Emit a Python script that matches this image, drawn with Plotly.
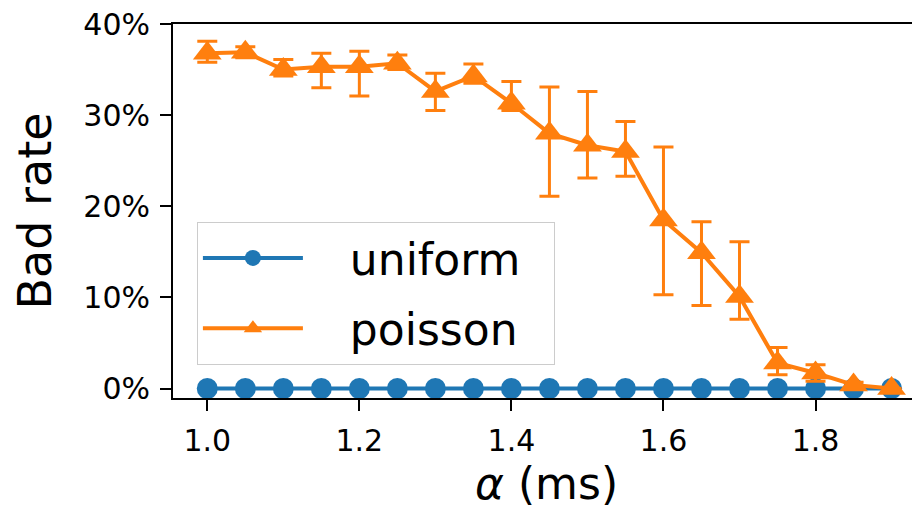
import plotly.graph_objects as go

alpha = [1.0, 1.05, 1.1, 1.15, 1.2, 1.25, 1.3, 1.35, 1.4, 1.45,
         1.5, 1.55, 1.6, 1.65, 1.7, 1.75, 1.8, 1.85, 1.9]
uniform = [0, 0, 0, 0, 0, 0, 0, 0, 0, 0, 0, 0, 0, 0, 0, 0, 0, 0, 0]
uniform_err = [0, 0, 0, 0, 0, 0, 0, 0, 0, 0, 0, 0, 0, 0, 0, 0, 0, 0, 0]
poisson = [36.8, 36.9, 35.0, 35.3, 35.3, 35.7, 32.6, 34.3, 31.3, 28.0,
           26.7, 26.0, 18.5, 14.9, 10.1, 2.8, 1.7, 0.4, 0.0]
poisson_err_up = [1.3, 0.6, 1.1, 1.5, 1.7, 0.9, 2.0, 1.3, 2.4, 5.1,
                  5.9, 3.3, 8.0, 3.4, 6.0, 1.7, 0.9, 0.3, 0.0]
poisson_err_down = [1.0, 0.6, 0.7, 2.3, 3.2, 0.7, 2.1, 0.8, 0.8, 6.9,
                    3.6, 2.7, 8.2, 5.8, 2.5, 1.3, 0.9, 0.3, 0.0]
y_ticks = [0, 10, 20, 30, 40]
y_tick_labels = ["0%", "10%", "20%", "30%", "40%"]
x_ticks = [1.0, 1.2, 1.4, 1.6, 1.8]
x_tick_labels = ["1.0", "1.2", "1.4", "1.6", "1.8"]

BLUE = "#1f77b4"
ORANGE = "#ff7f0e"
FONT = "DejaVu Sans"
NB = "\u00a0"

fig = go.Figure()
fig.add_trace(go.Scatter(
    x=alpha, y=uniform, name=NB * 3 + "uniform" + NB * 2, mode="lines+markers",
    legendgroup="u",
    line=dict(color=BLUE, width=4),
    marker=dict(symbol="circle", size=21, color=BLUE),
    error_y=dict(type="data", array=uniform_err, color=BLUE, thickness=3, width=10),
))
fig.add_trace(go.Scatter(
    x=alpha, y=poisson, name=NB * 3 + "poisson" + NB * 2, mode="lines+markers",
    legendgroup="p",
    line=dict(color=ORANGE, width=4),
    marker=dict(symbol="triangle-up", size=25, color=ORANGE),
    error_y=dict(type="data", symmetric=False, array=poisson_err_up,
                 arrayminus=poisson_err_down, color=ORANGE, thickness=3, width=10),
))

# page body adds an 8px margin, so the figure is sized/placed to compensate
fig.update_layout(
    width=912, height=501,
    margin=dict(l=165, r=0, t=16, b=110.5),
    paper_bgcolor="white", plot_bgcolor="white",
    font=dict(family=FONT, color="black", size=30),
    showlegend=True,
    legend=dict(
        x=0.032, y=0.471, xanchor="left", yanchor="top",
        bgcolor="rgba(255,255,255,0.8)", bordercolor="#cccccc", borderwidth=1,
        font=dict(family=FONT, size=44, color="black"),
        itemwidth=100, tracegroupgap=10,
    ),
    xaxis=dict(
        range=[0.9549, 1.9374], tickvals=x_ticks, ticktext=x_tick_labels,
        showline=True, linecolor="black", linewidth=2, mirror=True,
        ticks="outside", ticklen=11, tickwidth=2, tickcolor="black",
        showgrid=False, zeroline=False, automargin=False,
        tickfont=dict(size=30), ticklabelstandoff=4, ticklabeloverflow="allow",
        title=dict(text="<i>α</i> (ms)", font=dict(size=44), standoff=12),
    ),
    yaxis=dict(
        range=[-1.04, 40], tickvals=y_ticks, ticktext=y_tick_labels,
        showline=True, linecolor="black", linewidth=2, mirror=False,
        ticks="outside", ticklen=11, tickwidth=2, tickcolor="black",
        showgrid=False, zeroline=False, automargin=False,
        tickfont=dict(size=30), ticklabelstandoff=4, ticklabeloverflow="allow",
        title=dict(text="Bad rate", font=dict(size=46), standoff=38),
    ),
)

fig.write_html("out.html")
